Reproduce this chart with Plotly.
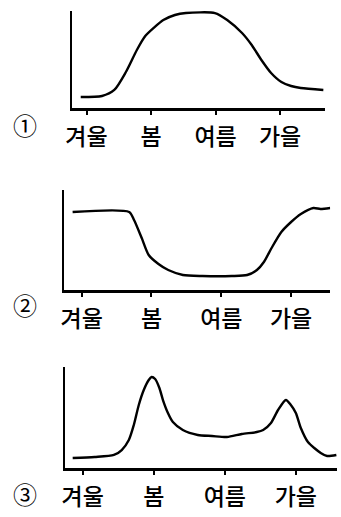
import plotly.graph_objects as go

# Season tick labels (x positions in season units: 0=겨울, 1=봄, 2=여름, 3=가을)
seasons = ["겨울", "봄", "여름", "가을"]
season_pos = [0, 1, 2, 3]
panel_marks = ["①", "②", "③"]

# Curve 1: summer maximum
x1 = [-0.09, 0.24, 0.43, 0.61, 0.78, 0.91, 1.04, 1.19, 1.37, 1.54, 1.99, 2.18, 2.41, 2.56, 2.71, 2.86, 3.02, 3.17, 3.32, 3.67]
y1 = [11.3, 12.4, 18.6, 37.1, 59.8, 74.2, 82.5, 90.7, 95.9, 97.9, 97.9, 90.7, 77.3, 64.9, 49.5, 36.1, 26.8, 22.7, 20.6, 18.6]

# Curve 2: summer minimum
x2 = [-0.13, 0.68, 0.75, 0.86, 0.96, 1.10, 1.24, 1.45, 1.73, 2.15, 2.37, 2.51, 2.61, 2.72, 2.86, 3.00, 3.14, 3.32, 3.42, 3.56]
y2 = [78, 78, 70, 52, 35, 26, 20, 15, 14, 14, 15, 20, 28, 42, 58, 68, 76, 82, 81, 82]

# Curve 3: spring and autumn peaks
x3 = [-0.14, 0.17, 0.44, 0.55, 0.65, 0.72, 0.79, 0.86, 0.93, 0.97, 1.02, 1.08, 1.13, 1.20, 1.27, 1.41, 1.62, 1.82, 2.03,
      2.24, 2.45, 2.54, 2.65, 2.75, 2.86, 2.93, 3.00, 3.07, 3.17, 3.35, 3.44, 3.57]
y3 = [9.9, 10.9, 12.9, 17.8, 27.7, 42.6, 62.4, 77.2, 87.1, 90.1, 88.1, 79.2, 67.3, 54.5, 45.5, 37.6, 32.7, 31.7, 30.7,
      33.7, 35.6, 37.6, 44.6, 57.4, 67.3, 62.4, 54.5, 39.6, 25.7, 14.9, 11.9, 12.9]

W, H = 341, 517
# panel geometry in pixels: (left, right, top, bottom), x range
panels = [
    dict(x=x1, y=y1, px=(67, 325), py=(11, 108), xr=[-0.228, 3.70], mark_y=124),
    dict(x=x2, y=y2, px=(59, 330), py=(190, 290), xr=[-0.254, 3.56], mark_y=304),
    dict(x=x3, y=y3, px=(60, 337), py=(367, 468), xr=[-0.249, 3.58], mark_y=493),
]

FONT = "Noto Sans CJK KR"
fig = go.Figure()
layout = dict(
    width=W, height=H,
    margin=dict(l=0, r=0, t=0, b=0),
    paper_bgcolor="white", plot_bgcolor="white",
    showlegend=False,
    font=dict(family=FONT, color="black"),
    annotations=[],
)

for i, p in enumerate(panels):
    n = "" if i == 0 else str(i + 1)
    fig.add_trace(go.Scatter(
        x=p["x"], y=p["y"], mode="lines",
        line=dict(color="black", width=2.4, shape="spline", smoothing=0.7),
        xaxis="x" + n, yaxis="y" + n, hoverinfo="skip", cliponaxis=False,
    ))
    layout["xaxis" + n] = dict(
        domain=[p["px"][0] / W, p["px"][1] / W],
        range=p["xr"], anchor="y" + n,
        showgrid=False, zeroline=False,
        showline=True, linecolor="black", linewidth=2.5,
        ticks="outside", ticklen=4, tickwidth=2, tickcolor="black",
        tickvals=season_pos, ticktext=seasons,
        tickfont=dict(family=FONT, size=23, color="black", weight=500),
        ticklabelstandoff=3,
    )
    layout["yaxis" + n] = dict(
        domain=[1 - p["py"][1] / H, 1 - p["py"][0] / H],
        range=[0, 100], anchor="x" + n,
        showgrid=False, zeroline=False,
        showline=True, linecolor="black", linewidth=2,
        showticklabels=False, ticks="",
    )
    layout["annotations"].append(dict(
        text=panel_marks[i], xref="paper", yref="paper",
        x=19 / W, y=1 - p["mark_y"] / H, xanchor="center", yanchor="middle",
        showarrow=False, font=dict(family=FONT, size=24, color="black"),
    ))

fig.update_layout(**layout)
fig.write_html("out.html", config={"displayModeBar": False},
               post_script="document.body.style.margin='0px';")
